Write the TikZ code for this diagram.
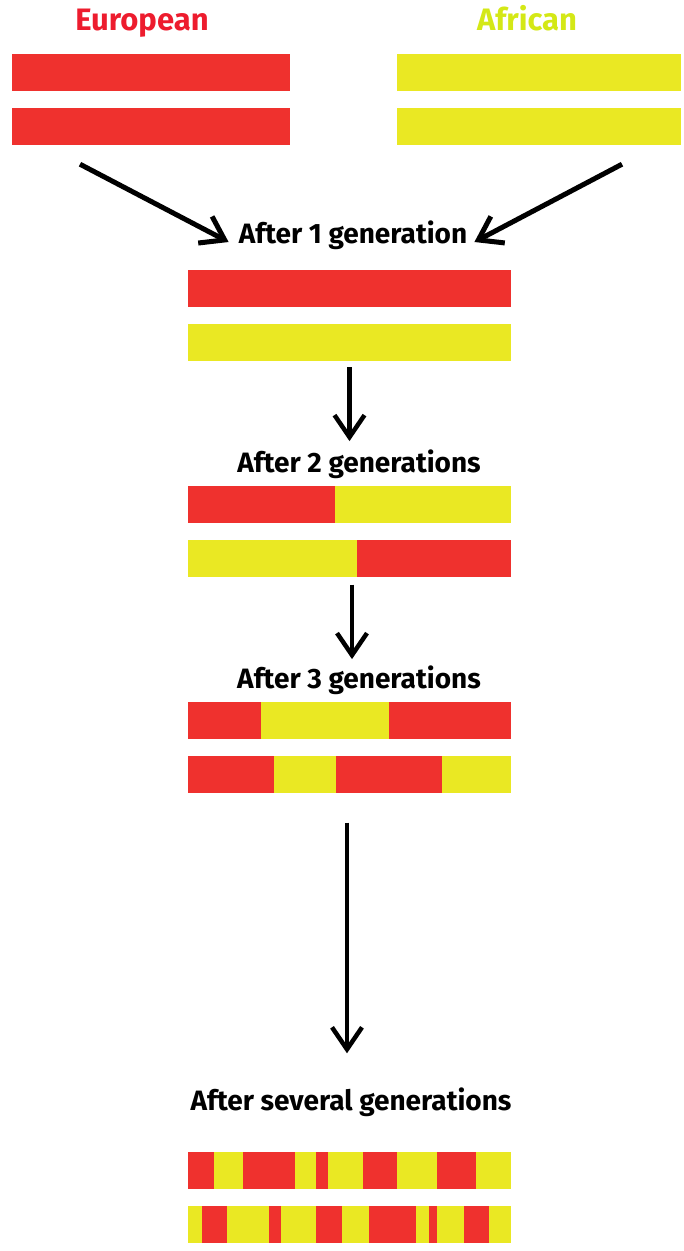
\documentclass[tikz,border=0pt]{standalone}
\usepackage{fontspec}
\setmainfont{Fira Sans}
\usetikzlibrary{arrows.meta,positioning,calc}
\definecolor{eured}{RGB}{239,49,46}
\definecolor{afyellow}{RGB}{234,232,35}
\definecolor{eutext}{RGB}{237,28,46}
\definecolor{aftext}{RGB}{212,232,22}
\tikzset{
  chrom/.style={minimum width=#1,minimum height=37pt,inner sep=0pt,outer sep=0pt},
  chrom/.default=323pt,
  genlabel/.style={font=\fontsize{28}{32}\selectfont\bfseries,inner sep=0pt,anchor=base},
  poplabel/.style={genlabel,font=\fontsize{31}{34}\selectfont\bfseries},
  bigarrow/.style={line width=4.5pt,-{Straight Barb[length=22pt,width=30pt]}}
}
% paint the stretches of one chromosome, offsets from its left end
\newcommand{\paintchrom}[2]{
  \foreach \a/\b/\c in {#2}
    \fill[\c] ([xshift=\a pt]#1.north west) rectangle ([xshift=\b pt]#1.south west);
}

\begin{document}
\begin{tikzpicture}[x=1pt,y=-1pt]
  \useasboundingbox (0,0) rectangle (684,1251);

  % parents
  \node[poplabel,text=eutext] (eulabel) at (142,30.7) {European};
  \node[poplabel,text=aftext] (aflabel) at (527,30.7) {African};
  \node[chrom=278pt,fill=eured] (eu1) at (151,72.3) {};
  \node[chrom=278pt,fill=eured] (eu2) at (151,126.7) {};
  \node[chrom=284pt,fill=afyellow] (af1) at (539,72.3) {};
  \node[chrom=284pt,fill=afyellow] (af2) at (539,126.7) {};

  % first generation
  \node[genlabel] (lab1) at (353,243) {After 1 generation};
  \node[chrom,fill=eured] (g1a) at (349.5,288.5) {};
  \node[chrom,fill=afyellow] (g1b) at (349.5,342.5) {};

  % second generation
  \node[genlabel] (lab2) at (359,472) {After 2 generations};
  \node[chrom] (g2a) at (349.5,504) {};
  \node[chrom] (g2b) at (349.5,558) {};
  \paintchrom{g2a}{0/147/eured, 147/323/afyellow}
  \paintchrom{g2b}{0/169/afyellow, 169/323/eured}

  % third generation
  \node[genlabel] (lab3) at (359,688) {After 3 generations};
  \node[chrom] (g3a) at (349.5,720) {};
  \node[chrom] (g3b) at (349.5,774) {};
  \paintchrom{g3a}{0/73/eured, 73/201/afyellow, 201/323/eured}
  \paintchrom{g3b}{0/86/eured, 86/148/afyellow, 148/254/eured, 254/323/afyellow}

  % many generations later
  \node[genlabel] (labN) at (351,1110.7) {After several generations};
  \node[chrom] (gNa) at (349.5,1170) {};
  \node[chrom] (gNb) at (349.5,1224) {};
  \paintchrom{gNa}{0/26/eured, 26/55/afyellow, 55/107/eured, 107/128/afyellow,
    128/140/eured, 140/175/afyellow, 175/209/eured, 209/249/afyellow,
    249/288/eured, 288/323/afyellow}
  \paintchrom{gNb}{0/14/afyellow, 14/39/eured, 39/81/afyellow, 81/93/eured,
    93/128/afyellow, 128/154/eured, 154/181/afyellow, 181/228/eured,
    228/241/afyellow, 241/249/eured, 249/276/afyellow, 276/301/eured,
    301/323/afyellow}

  % arrows
  \draw[bigarrow,line width=5pt] ([xshift=-71pt,yshift=-19pt]eu2.south) -- ([xshift=-10pt,yshift=1pt]lab1.base west);
  \draw[bigarrow,line width=5pt] ([xshift=83pt,yshift=-19pt]af2.south) -- ([xshift=7pt,yshift=1pt]lab1.base east);
  \draw[bigarrow] ([yshift=-6pt]g1b.south) -- ($(g1b.south |- lab2.north)+(0,8pt)$);
  \draw[bigarrow] ([xshift=2.5pt,yshift=-8pt]g2b.south) -- ($(g2b.south |- lab3.north)+(2.5pt,6pt)$);
  \draw[bigarrow] ([xshift=-2.5pt,yshift=-30pt]g3b.south) -- ($(g3b.south |- labN.north)+(-2.5pt,34.5pt)$);
\end{tikzpicture}
\end{document}
